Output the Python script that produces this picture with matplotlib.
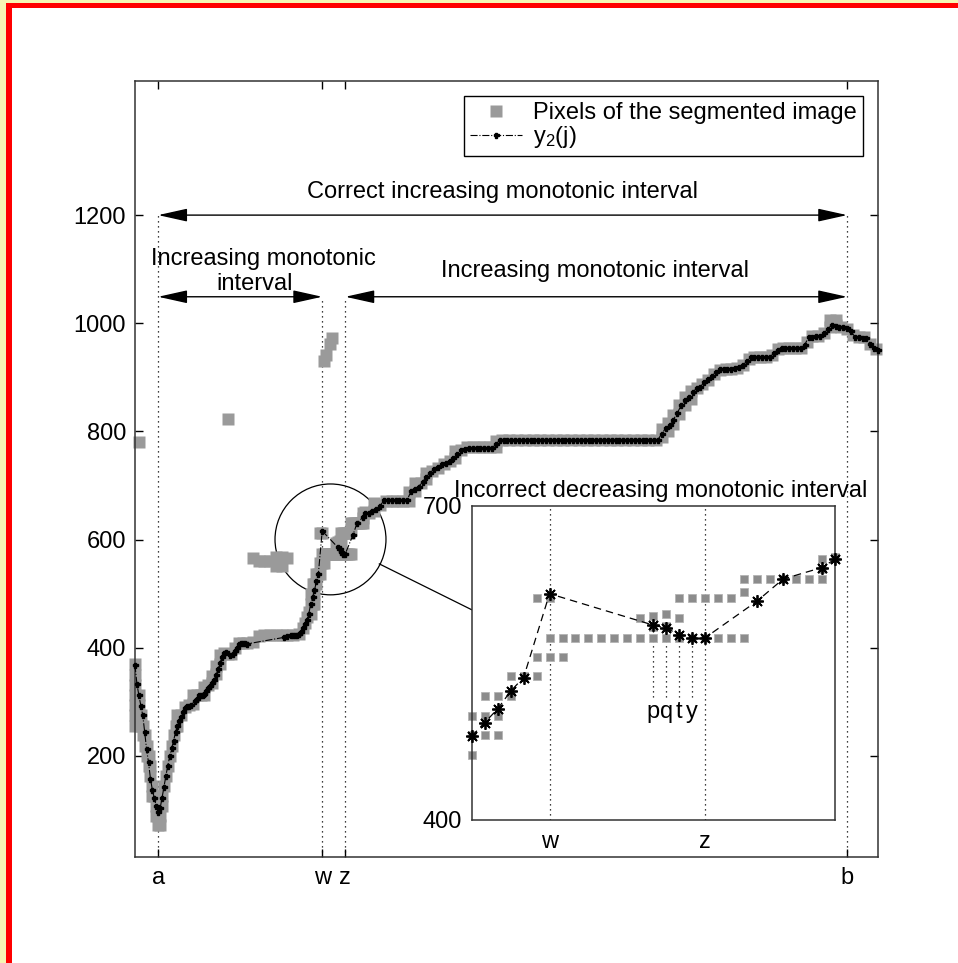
import matplotlib.pyplot as plt
from matplotlib.patches import Ellipse, Rectangle

plt.rcParams['font.family'] = ['Liberation Sans', 'DejaVu Sans']
plt.rcParams['mathtext.fontset'] = 'custom'
plt.rcParams['mathtext.rm'] = 'Liberation Sans'

# y2(j): estimated row for image column j (left part, irregular columns)
y2_left_cols = [0, 1, 2, 3, 4, 5, 6, 7, 8, 9, 10, 11, 12, 13, 14, 15, 16, 17, 18, 19,
                20, 21, 22, 23, 24, 25, 26, 27, 28, 29, 31, 32, 33, 34, 35, 36, 37, 38, 39, 40,
                41, 42, 43, 44, 45, 46, 47, 49, 51, 52, 53, 54, 55, 56, 57, 58,
                77, 79, 81, 82, 83, 84, 85, 86, 87, 88, 89, 90,
                91, 92, 93, 94, 95, 97, 105, 106, 107, 108, 109, 113, 115, 118, 119]
y2_left_vals = [368, 333, 312, 293, 275, 245, 212, 188, 158, 137, 122, 108, 97, 103, 122, 143, 163, 182, 199, 214,
                228, 244, 256, 264, 272, 281, 288, 292, 293, 294, 301, 306, 313, 313, 313, 315, 320, 325, 330, 334,
                340, 350, 360, 371, 382, 391, 392, 386, 388, 394, 400, 406, 408, 408, 408, 407,
                419, 421, 424, 424, 424, 424, 426, 429, 437, 444, 451, 462,
                480, 493, 506, 523, 536, 616, 586, 583, 577, 574, 574, 609, 630, 641, 649]

# right part, every second column from 121
y2_right_start = 121
y2_right_vals = [650, 652, 656, 662, 673, 673, 673, 673, 673, 673,
                 673, 689, 694, 698, 707, 716, 724, 730, 734, 739,
                 742, 746, 750, 758, 766, 768, 769, 769, 769, 769,
                 769, 769, 769, 776, 784,
                 785, 785, 785, 785, 785, 785, 785, 785, 785, 785,
                 785, 785, 785, 785, 785, 785, 785, 785, 785, 785,
                 785, 785, 785, 785, 785, 785, 785, 785, 785, 785,
                 785, 785, 785, 785, 785, 785, 785, 785, 785, 785,
                 785,
                 796, 806, 812, 822, 834, 848, 858, 864, 872, 880,
                 883, 891, 897, 903, 910, 915, 915, 916, 916, 917,
                 920, 922, 930, 937, 938, 938, 938, 937, 937, 945,
                 951, 954, 954, 954, 954, 954, 954, 960, 974, 975,
                 976, 976, 982, 989, 997, 995, 994, 993, 991, 985,
                 975, 974, 973, 973, 962, 954, 951]

# pixels of the segmented image: column -> rows
seg_pixels = {
    0: [369, 350, 331, 312, 294, 275, 256], 2: [780, 312, 294], 3: [275, 256],
    4: [256, 238], 5: [238, 219], 6: [219, 200], 7: [200, 182], 8: [182, 163],
    9: [144, 125], 10: [125], 11: [107, 88], 12: [88, 72], 13: [88, 72],
    14: [107, 125], 15: [144], 16: [163], 17: [182], 18: [200], 19: [219],
    20: [238], 21: [256], 22: [256, 275], 24: [275], 26: [290], 28: [294],
    30: [296, 312], 32: [312], 34: [312], 36: [312, 328], 38: [331],
    40: [334, 348], 42: [352, 366], 44: [370, 386], 46: [390], 48: [388, 823],
    50: [388], 52: [400], 54: [408], 56: [408], 58: [408],
    61: [410, 565], 64: [422, 560], 67: [424, 560], 70: [424, 560],
    73: [424, 568, 552], 76: [424, 568, 552], 79: [424, 565], 82: [424],
    85: [426], 87: [436], 88: [446], 89: [456], 90: [466],
    91: [499, 481, 462], 92: [518, 499, 481], 93: [518, 499, 481],
    94: [537, 518], 95: [537], 96: [612, 556, 537], 97: [612, 574, 556],
    98: [930, 574, 556], 99: [942, 574], 100: [574], 101: [962, 574],
    102: [972, 574], 103: [574], 104: [593, 574], 105: [595, 584, 574],
    106: [597, 585, 574], 107: [612, 593, 574], 108: [612, 574],
    109: [612, 574], 110: [612, 574], 111: [612, 574], 112: [630, 618, 574],
    113: [630], 114: [630], 115: [630], 116: [630], 117: [630],
    118: [649, 640, 630], 119: [651],
    121: [649], 124: [652, 668], 127: [664], 130: [672], 133: [672],
    136: [672], 139: [672], 142: [672, 688], 145: [690, 704], 148: [704],
    151: [712, 724], 154: [726], 157: [732], 160: [740], 163: [745],
    166: [750, 764], 169: [766], 172: [771], 175: [771], 178: [771],
    181: [771], 184: [771], 187: [771, 783],
    190: [784], 194: [784], 198: [784], 202: [784], 206: [784], 210: [784],
    214: [784], 218: [784], 222: [784], 226: [784], 230: [784], 234: [784],
    238: [784], 242: [784], 246: [784], 250: [784], 254: [784], 258: [784],
    262: [784], 266: [784], 270: [784],
    273: [790, 804], 276: [800, 816], 279: [814, 830], 282: [832, 848],
    285: [848, 864], 288: [860, 874], 291: [880], 294: [888], 297: [896],
    300: [906], 303: [914], 306: [916], 309: [916], 312: [918], 315: [922],
    318: [934], 321: [938], 324: [938], 327: [938], 330: [942], 333: [952],
    336: [954], 339: [954], 342: [954], 345: [954], 348: [966], 351: [976],
    354: [976], 357: [982], 360: [994, 1006], 363: [996, 1006], 366: [994],
    369: [990], 372: [978], 375: [974], 378: [974], 381: [962], 384: [952],
}

tick_cols = [12, 97, 109, 369]
tick_names = ['a', 'w', 'z', 'b']
ytick_vals = [200, 400, 600, 800, 1000, 1200]
pqty_cols = [105, 106, 107, 108]
pqty_names = ['p', 'q', 't', 'y']

y2_cols = y2_left_cols + list(range(y2_right_start, y2_right_start + 2 * len(y2_right_vals), 2))
y2_vals = y2_left_vals + y2_right_vals
pix_cols = [c for c, rows in seg_pixels.items() for r in rows]
pix_vals = [r for c, rows in seg_pixels.items() for r in rows]

W, H = 958, 963
FS = 17


def box(x0, y0, x1, y1):
    return [x0 / W, 1 - y1 / H, (x1 - x0) / W, (y1 - y0) / H]


fig = plt.figure(figsize=(W / 100, H / 100), dpi=100)

# main axes
ax = fig.add_axes(box(135, 81, 878, 857))
ax.plot(pix_cols, pix_vals, 's', ms=8.0, color='#9a9a9a', mec='none',
        clip_on=False, zorder=2, label='Pixels of the segmented image')
ax.plot(y2_cols, y2_vals, color='k', ls='-.', lw=0.8, marker='P', ms=3.6,
        clip_on=False, zorder=3, label=r'$\mathregular{y_2}$(j)')
ax.set_xlim(0, 385)
ax.set_ylim(13, 1448)

# interval marks
for c, top in zip(tick_cols, [1200, 1049, 1049, 1200]):
    ax.plot([c, c], [13, top], color='k', ls=(0, (1, 3)), lw=0.9, zorder=1)

arrow = dict(arrowstyle='<|-|>,head_length=0.9,head_width=0.2', color='k',
             lw=1, shrinkA=0, shrinkB=0, mutation_scale=20)
ax.annotate('', xy=(369, 1200), xytext=(12, 1200), arrowprops=arrow)
ax.annotate('', xy=(97, 1049), xytext=(12, 1049), arrowprops=arrow)
ax.annotate('', xy=(369, 1049), xytext=(109, 1049), arrowprops=arrow)
ax.text(190.4, 1231, 'Correct increasing monotonic interval', fontsize=FS,
        ha='center', va='baseline')
ax.text(66.6, 1108, 'Increasing monotonic', fontsize=FS, ha='center', va='baseline')
ax.text(62.2, 1062, 'interval', fontsize=FS, ha='center', va='baseline')
ax.text(238.3, 1085, 'Increasing monotonic interval', fontsize=FS,
        ha='center', va='baseline')

# zoom circle and connector
ax.add_patch(Ellipse((101.3, 600.3), 57.5, 205, fill=False, color='k', lw=0.9))
ax.plot([126.6, 174.6], [555, 470], color='k', lw=0.9, clip_on=False)

ax.set_xticks(tick_cols, tick_names)
ax.set_yticks(ytick_vals)
ax.tick_params(direction='in', length=6, width=1, top=True, right=True,
               labelsize=FS)
ax.tick_params(axis='y', pad=6.5)
ax.tick_params(axis='x', pad=7.5)
for s in ax.spines.values():
    s.set_linewidth(1.1)
    s.set_color('#333333')

leg = ax.legend(loc='upper right', bbox_to_anchor=(0.98, 0.9807),
                borderaxespad=0, fontsize=FS, fancybox=False, edgecolor='k',
                framealpha=1, handlelength=2.2, handletextpad=0.5,
                borderpad=0.25, labelspacing=0.0, numpoints=1)
leg.get_frame().set_linewidth(1)

# inset: columns around w and z
ax2 = fig.add_axes(box(471.7, 505.7, 835, 820))
in_pix = [(c, v) for c, v in zip(pix_cols, pix_vals) if 91 <= c <= 119 and 400 <= v <= 700]
in_y2 = [(c, v) for c, v in zip(y2_cols, y2_vals) if 91 <= c <= 119]
ax2.plot([p[0] for p in in_pix], [p[1] for p in in_pix], 's', ms=6.1,
         color='#8c8c8c', mec='#b4b4b4', mew=0.6, clip_on=False, zorder=2)
ax2.plot([p[0] for p in in_y2], [p[1] for p in in_y2], color='k', ls='--',
         lw=0.9, dashes=(6, 4), marker=(8, 2, 0), ms=9, mew=1.3,
         clip_on=False, zorder=3)
ax2.set_xlim(91, 119)
ax2.set_ylim(400, 700)
for c in [97, 109]:
    ax2.plot([c, c], [400, 700], color='k', ls=(0, (1, 3)), lw=0.9, zorder=1)
y2_lookup = dict(zip(y2_cols, y2_vals))
for c, name in zip(pqty_cols, pqty_names):
    ax2.plot([c, c], [517, y2_lookup[c]], color='k', ls=(0, (1, 3)), lw=0.9, zorder=1)
    ax2.text(c, 497, name, fontsize=FS, ha='center', va='baseline')
ax2.set_xticks([97, 109], ['w', 'z'])
ax2.set_yticks([400, 700])
ax2.tick_params(direction='in', length=0, labelsize=FS)
ax2.tick_params(axis='y', pad=7)
ax2.tick_params(axis='x', pad=8)
for s in ax2.spines.values():
    s.set_linewidth(1.1)
    s.set_color('#333333')
ax2.text(0.519, 1.0277, 'Incorrect decreasing monotonic interval', fontsize=FS,
         ha='center', va='baseline', transform=ax2.transAxes)

# page frame
fig.add_artist(Rectangle((0, 0), 5.7 / W, 1, transform=fig.transFigure,
                         facecolor='#f6f6b4', edgecolor='none'))
fig.add_artist(Rectangle((0, 1 - 2.7 / H), 1, 2.7 / H, transform=fig.transFigure,
                         facecolor='#f6f6b4', edgecolor='none'))
fig.add_artist(Rectangle((5.7 / W, 0), 6 / W, 1 - 2.7 / H, transform=fig.transFigure,
                         facecolor='#ff0000', edgecolor='none'))
fig.add_artist(Rectangle((5.7 / W, 1 - 8.3 / H), 1, 5.6 / H, transform=fig.transFigure,
                         facecolor='#ff0000', edgecolor='none'))

fig.savefig('out.png', dpi=100)
